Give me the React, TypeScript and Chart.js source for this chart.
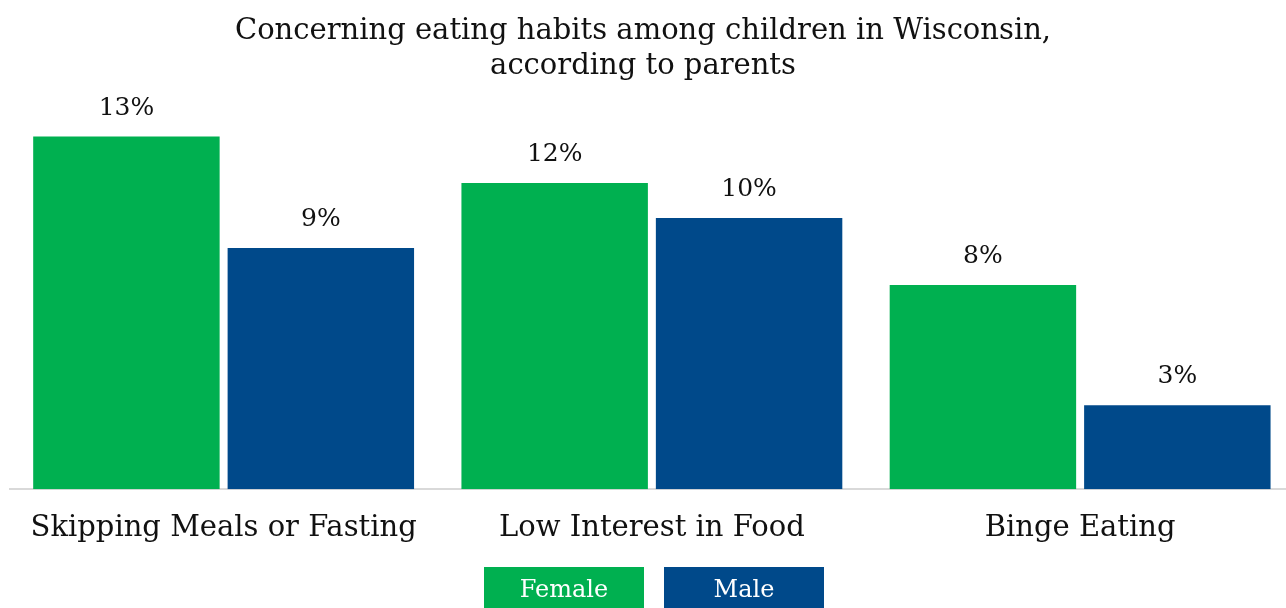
import React, { useEffect, useRef } from "react";
import { Chart, registerables } from "chart.js";

Chart.register(...registerables);

const TITLE_LINES = ["Concerning eating habits among children in Wisconsin,", "according to parents"];
const CATEGORIES = ["Skipping Meals or Fasting", "Low Interest in Food", "Binge Eating"];
const SERIES_NAMES = ["Female", "Male"];
const FEMALE = [13.3, 11.55, 7.7];
const MALE = [9.1, 10.23, 3.17];
const COLORS = ["#00b050", "#00498a"];

const FONT = "'DejaVu Serif', 'Liberation Serif', serif";

const decorPlugin = {
  id: "decor",
  afterDraw(chart: any) {
    const ctx = chart.ctx;
    ctx.save();
    // title
    ctx.fillStyle = "#111";
    ctx.font = `29px ${FONT}`;
    ctx.textAlign = "center";
    ctx.textBaseline = "alphabetic";
    const cx = 643;
    ctx.fillText(TITLE_LINES[0], cx, 39);
    ctx.fillText(TITLE_LINES[1], cx, 74);

    // value labels
    ctx.font = `25px ${FONT}`;
    chart.data.datasets.forEach((ds: any, di: number) => {
      const meta = chart.getDatasetMeta(di);
      meta.data.forEach((bar: any, i: number) => {
        const v = ds.data[i];
        ctx.fillStyle = "#111";
        ctx.fillText(`${Math.round(v)}%`, bar.x, bar.y - 22);
      });
    });

    // legend
    const boxW = 160;
    const boxH = 46;
    const gap = 20;
    const n = chart.data.datasets.length;
    const total = n * boxW + (n - 1) * gap;
    let x = 654 - total / 2;
    const top = 567;
    ctx.font = `24px ${FONT}`;
    chart.data.datasets.forEach((ds: any) => {
      ctx.fillStyle = ds.backgroundColor;
      ctx.fillRect(x, top, boxW, boxH);
      ctx.fillStyle = "#ffffff";
      ctx.fillText(ds.label, x + boxW / 2, top + 30);
      x += boxW + gap;
    });
    ctx.restore();
  },
};

export default function App() {
  const ref = useRef<HTMLCanvasElement>(null);
  useEffect(() => {
    if (!ref.current) return;
    const chart = new Chart(ref.current, {
      type: "bar",
      data: {
        labels: CATEGORIES,
        datasets: [
          { label: SERIES_NAMES[0], data: FEMALE, backgroundColor: COLORS[0] },
          { label: SERIES_NAMES[1], data: MALE, backgroundColor: COLORS[1] },
        ],
      },
      options: {
        animation: false,
        responsive: false,
        devicePixelRatio: 1,
        categoryPercentage: 0.908,
        barPercentage: 0.959,
        layout: { padding: { left: 9.5, right: 1.75, top: 118, bottom: 40 } },
        plugins: {
          legend: { display: false },
          title: { display: false },
          tooltip: { enabled: false },
        },
        scales: {
          x: {
            grid: { display: false, drawTicks: false },
            border: { display: true, color: "#d9d9d9", width: 2 },
            ticks: { color: "#111", font: { family: FONT, size: 29 }, padding: 22 },
          },
          y: {
            display: false,
            min: 0,
            max: 14,
          },
        },
      },
      plugins: [decorPlugin],
    });
    return () => chart.destroy();
  }, []);
  return (
    <div style={{ position: "fixed", left: 0, top: 0, width: 1286, height: 608, overflow: "hidden", background: "#fff" }}>
      <canvas ref={ref} width={1296} height={608} style={{ display: "block" }} />
    </div>
  );
}
